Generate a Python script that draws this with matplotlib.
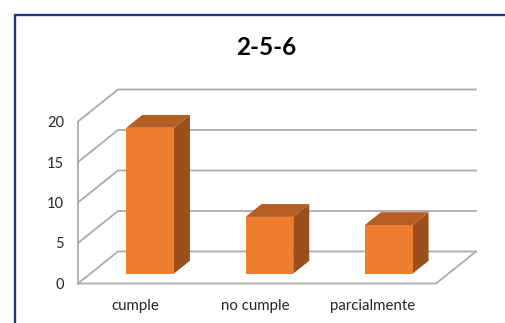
"""Oblique 3D-style column chart for item 2-5-6."""

import matplotlib

matplotlib.use("Agg")
import matplotlib.pyplot as plt
from matplotlib.patches import Polygon
from matplotlib.transforms import ScaledTranslation

categories = ["cumple", "no cumple", "parcialmente"]
values = [18, 7, 6]
y_ticks = [0, 5, 10, 15, 20]
title = "2-5-6"

WIDTH, HEIGHT = 505, 323
DEPTH_X = 0.335  # category units for the full floor depth
DEPTH_Y = 3.95  # value units for the full floor depth
BAR_WIDTH = 0.40
BAR_FRONT = 0.31
BAR_BACK = 0.71

ORANGE = "#ED7D31"
TOP = "#B55D22"
SIDE = "#9A4F1C"
GRID = "#ABABAB"
TEXT = "#262626"
FRAME = "#1F3A7A"

plt.rcParams["font.family"] = ["Lato", "DejaVu Sans"]


def project(x: float, y: float, depth: float) -> tuple[float, float]:
    """Shift a point of the front plane backwards along the oblique direction."""
    return x + depth * DEPTH_X, y + depth * DEPTH_Y


fig = plt.figure(figsize=(WIDTH / 100, HEIGHT / 100), dpi=100)
ax = fig.add_axes([78 / WIDTH, 1 - 283.5 / HEIGHT, 358 / WIDTH, 162 / HEIGHT])
ax.set_xlim(-0.5, len(categories) - 0.5)
ax.set_ylim(y_ticks[0], y_ticks[-1])
for spine in ax.spines.values():
    spine.set_visible(False)
ax.patch.set_visible(False)

x_left, x_right = ax.get_xlim()

# walls and floor
for tick in y_ticks:
    xs, ys = zip(project(x_left, tick, 0), project(x_left, tick, 1), project(x_right, tick, 1))
    ax.plot(xs, ys, color=GRID, lw=1.3, clip_on=False, solid_joinstyle="miter")
ax.plot([x_left, x_left], y_ticks[::4], color=GRID, lw=1.3, clip_on=False)
xs, ys = zip(
    project(x_left, 0, 0),
    project(x_right, 0, 0),
    project(x_right, 0, 1),
)
ax.plot(xs, ys, color=GRID, lw=1.3, clip_on=False, solid_joinstyle="miter")

# columns
for pos, value in enumerate(values):
    left, right = pos - BAR_WIDTH / 2, pos + BAR_WIDTH / 2
    front = [project(left, 0, BAR_FRONT), project(right, 0, BAR_FRONT),
             project(right, value, BAR_FRONT), project(left, value, BAR_FRONT)]
    side = [project(right, 0, BAR_FRONT), project(right, 0, BAR_BACK),
            project(right, value, BAR_BACK), project(right, value, BAR_FRONT)]
    top = [project(left, value, BAR_FRONT), project(right, value, BAR_FRONT),
           project(right, value, BAR_BACK), project(left, value, BAR_BACK)]
    ax.add_patch(Polygon(side, closed=True, facecolor=SIDE, edgecolor="none", zorder=3, clip_on=False))
    ax.add_patch(Polygon(top, closed=True, facecolor=TOP, edgecolor="none", zorder=3, clip_on=False))
    ax.add_patch(Polygon(front, closed=True, facecolor=ORANGE, edgecolor="none", zorder=4, clip_on=False))

ax.set_xticks(range(len(categories)), categories)
ax.set_yticks(y_ticks)
ax.tick_params(axis="x", length=0, pad=11, labelsize=10.8, labelcolor=TEXT)
ax.tick_params(axis="y", length=0, pad=10, labelsize=10.5, labelcolor=TEXT)

# the category labels sit a little left of the column slots
for label, shift_px in zip(ax.get_xticklabels(), [-2, -2, -3.5]):
    label.set_transform(label.get_transform() + ScaledTranslation(shift_px / 100, 0, fig.dpi_scale_trans))

fig.text(266 / WIDTH, 1 - 47.5 / HEIGHT, title, ha="center", va="center",
         fontsize=17.5, fontweight="bold", color="black")

# chart frame, cut by the right and bottom edges of the picture
fig.add_artist(plt.Line2D([14.5 / WIDTH, 14.5 / WIDTH, 1], [0, 1 - 14.5 / HEIGHT, 1 - 14.5 / HEIGHT],
                          color=FRAME, lw=1.7, solid_joinstyle="miter"))

fig.savefig("out.png", dpi=100, facecolor="white")
